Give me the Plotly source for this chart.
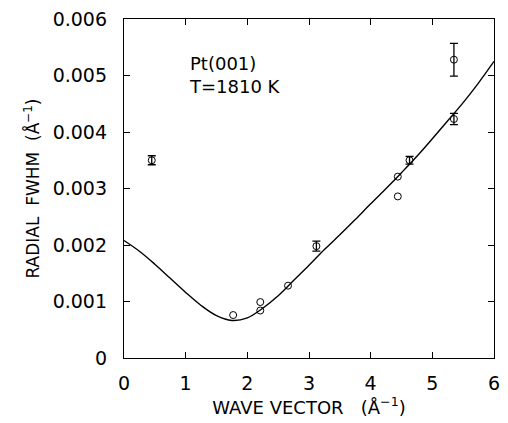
import plotly.graph_objects as go

# Fit curve
curve_q = [0.0, 0.25, 0.5, 0.75, 1.0, 1.25, 1.5, 1.75, 2.0, 2.25, 2.5, 2.75,
           3.0, 3.25, 3.5, 3.75, 4.0, 4.25, 4.5, 4.75, 5.0, 5.25, 5.5, 5.75, 6.0]
curve_w = [0.00208, 0.00189, 0.00166, 0.00141, 0.00116, 0.00093, 0.00075, 0.000665,
           0.00071, 0.00088, 0.00110, 0.00137, 0.00164, 0.00192, 0.00218, 0.00245,
           0.00273, 0.00300, 0.00328, 0.00357, 0.00388, 0.00420, 0.00452, 0.00487, 0.00525]

# Data points with error bars
err_q = [0.45, 3.12, 4.63, 5.35, 5.35]
err_w = [0.00350, 0.00198, 0.00350, 0.00528, 0.00423]
err_e = [0.00008, 0.00009, 0.00007, 0.00029, 0.00010]

# Data points without error bars
pt_q = [1.77, 2.21, 2.21, 2.66, 4.44, 4.44]
pt_w = [0.00076, 0.00099, 0.00084, 0.00128, 0.00321, 0.00286]

y_ticks = [0, 0.001, 0.002, 0.003, 0.004, 0.005, 0.006]
y_labels = ["0", "0.001", "0.002", "0.003", "0.004", "0.005", "0.006"]
x_ticks = [0, 1, 2, 3, 4, 5, 6]

FONT = "DejaVu Sans"

fig = go.Figure()
fig.add_trace(go.Scatter(x=curve_q, y=curve_w, mode="lines",
                         line=dict(color="black", width=1.4, shape="spline"),
                         showlegend=False))
fig.add_trace(go.Scatter(x=err_q, y=err_w, mode="markers",
                         marker=dict(symbol="circle-open", size=7, color="black",
                                     line=dict(width=1)),
                         error_y=dict(type="data", array=err_e, visible=True,
                                      color="black", thickness=1.3, width=4),
                         showlegend=False))
fig.add_trace(go.Scatter(x=pt_q, y=pt_w, mode="markers",
                         marker=dict(symbol="circle-open", size=7, color="black",
                                     line=dict(width=1)),
                         showlegend=False))

fig.add_annotation(x=0.17, y=0.905, xref="paper", yref="paper",
                   text="Pt(001)<br>T=1810 K", showarrow=False, align="left",
                   xanchor="left", yanchor="top",
                   font=dict(family=FONT, size=18, color="black"))

axis_common = dict(showline=True, linecolor="black", linewidth=1.3, mirror="ticks",
                   ticks="inside", ticklen=6, tickcolor="black", tickwidth=1,
                   showgrid=False, zeroline=False,
                   tickfont=dict(family=FONT, size=19, color="black"))

fig.update_xaxes(range=[0, 6], tickvals=x_ticks,
                 title=dict(text="WAVE VECTOR   (Å<sup>−1</sup>)",
                            font=dict(family=FONT, size=18, color="black"), standoff=8),
                 ticklabelstandoff=8, **axis_common)
fig.update_yaxes(range=[0, 0.006], tickvals=y_ticks, ticktext=y_labels,
                 title=dict(text="RADIAL  FWHM  (Å<sup>−1</sup>)",
                            font=dict(family=FONT, size=17, color="black"), standoff=8),
                 ticklabelstandoff=12, **axis_common)

fig.update_layout(width=508, height=423,
                  margin=dict(l=124, r=8, t=13, b=59),
                  plot_bgcolor="white", paper_bgcolor="white")

fig.write_html("out.html")
